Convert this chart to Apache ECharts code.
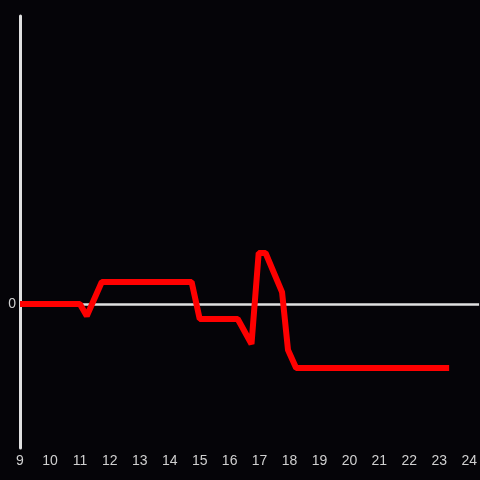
<!DOCTYPE html>
<html>
<head>
<meta charset="utf-8">
<script src="https://cdn.jsdelivr.net/npm/echarts@6/dist/echarts.min.js"></script>
<style>
  html, body { margin: 0; padding: 0; background: #050408; }
  #chart { width: 480px; height: 480px; }
</style>
</head>
<body>
<div id="chart"></div>
<script>
// hour of day vs relative value
const hours = [9, 11, 11.23, 11.73, 14.73, 15.0, 16.27, 16.73, 16.97, 17.2, 17.75, 17.95, 18.22, 23.33];
const values = [0, 0, -8.3, 15.3, 15.3, -10.4, -10.4, -27.8, 35.4, 35.4, 8.3, -32, -44.4, -44.4];
const xRange = [9, 24.33];

const chart = echarts.init(document.getElementById("chart"));

chart.setOption({
  backgroundColor: "#050408",
  animation: false,
  grid: { left: 20, right: 0, top: 16, bottom: 32 },
  xAxis: {
    type: "value",
    min: xRange[0],
    max: xRange[1],
    interval: 1,
    axisLine: { show: false },
    axisTick: { show: false },
    splitLine: { show: false },
    axisLabel: {
      color: "#d0d0d0",
      fontSize: 14,
      margin: 6,
      showMaxLabel: false,
      formatter: (v) => (Number.isInteger(v) ? String(v) : ""),
    },
  },
  yAxis: {
    type: "value",
    min: -100,
    max: 200,
    interval: 100,
    axisLine: { show: true, lineStyle: { color: "#e0e0e0", width: 3 } },
    axisTick: { show: false },
    splitLine: { show: false },
    axisLabel: {
      color: "#d0d0d0",
      fontSize: 14,
      margin: 4,
      formatter: (v) => (v === 0 ? "0" : ""),
    },
  },
  series: [
    {
      type: "line",
      data: hours.map((h, i) => [h, values[i]]),
      showSymbol: false,
      lineStyle: { color: "#ff0000", width: 6 },
      itemStyle: { color: "#ff0000" },
      z: 3,
      markLine: {
        silent: true,
        symbol: "none",
        label: { show: false },
        lineStyle: { color: "#e0e0e0", width: 2.5, type: "solid" },
        data: [{ yAxis: 0 }],
        z: 1,
      },
    },
  ],
});
</script>
</body>
</html>
